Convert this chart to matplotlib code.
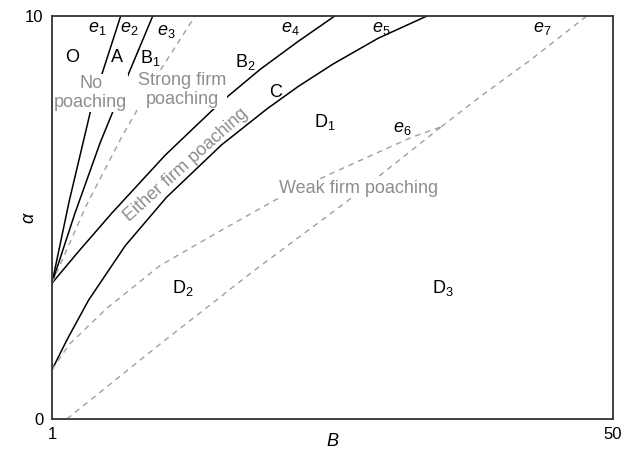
import numpy as np
import matplotlib
matplotlib.use("Agg")
import matplotlib.pyplot as plt

plt.rcParams['font.family'] = ['Liberation Sans', 'DejaVu Sans']
plt.rcParams['mathtext.fontset'] = 'custom'
plt.rcParams['mathtext.rm'] = 'Liberation Sans'
plt.rcParams['mathtext.it'] = 'Liberation Sans:italic'

# boundary curves (B, alpha)
e1_B = [1, 2.5, 4.5, 7.0]
e1_a = [3.37, 5.4, 7.8, 10]
e2_B = [1, 3.0, 5.2, 7.0, 9.8]
e2_a = [3.37, 5.1, 6.85, 8.1, 10]
e3_B = [1, 4.0, 7.0, 10.0, 13.5]
e3_a = [3.37, 5.3, 6.95, 8.45, 10]
e4_B = [1, 3.3, 6.2, 10.9, 15.7, 19.2, 22.5, 25.7]
e4_a = [3.37, 4.15, 5.1, 6.55, 7.85, 8.68, 9.37, 10]
e5_B = [1, 2.3, 4.2, 7.4, 11.0, 15.8, 19.8, 22.5, 25.5, 29.5, 33.75]
e5_a = [1.22, 1.96, 2.95, 4.3, 5.5, 6.8, 7.7, 8.25, 8.8, 9.45, 10]
e6_B = [1, 2.5, 5.8, 10.4, 15.4, 20.6, 25.3, 29.9, 32.5, 35.0]
e6_a = [1.22, 1.85, 2.75, 3.8, 4.62, 5.45, 6.08, 6.67, 7.0, 7.25]
weak_B = [2.3, 10.4, 18.5, 27.0, 35.0]
weak_a = [0, 1.85, 3.65, 5.45, 7.25]
e7_B = [35.0, 38.4, 42.75, 47.7]
e7_a = [7.25, 8.0, 8.9, 10]

# region / curve labels
curve_labels = [r"$e_1$", r"$e_2$", r"$e_3$", r"$e_4$", r"$e_5$", r"$e_6$", r"$e_7$"]
curve_lab_B = [4.93, 7.75, 11.0, 21.8, 29.8, 31.6, 43.8]
curve_lab_a = [9.68, 9.68, 9.62, 9.7, 9.7, 7.22, 9.7]
region_labels = ["O", "A", r"B$_1$", r"B$_2$", "C", r"D$_1$", r"D$_2$", r"D$_3$"]
region_lab_B = [2.75, 6.68, 9.56, 17.9, 20.56, 24.8, 12.4, 35.15]
region_lab_a = [8.98, 8.98, 8.96, 8.86, 8.11, 7.37, 3.25, 3.25]

grey = '#8e8e8e'
white_box = dict(facecolor='white', edgecolor='none', pad=0.5)
fig = plt.figure(figsize=(6.27, 4.51), dpi=100)
ax = fig.add_axes([0.0829, 0.0710, 0.8948, 0.8935])

for bb, aa in [(e1_B, e1_a), (e2_B, e2_a), (e4_B, e4_a), (e5_B, e5_a)]:
    ax.plot(bb, aa, color='black', lw=1.1)
for bb, aa in [(e3_B, e3_a), (e6_B, e6_a), (weak_B, weak_a), (e7_B, e7_a)]:
    ax.plot(bb, aa, color='#a0a0a0', lw=1.0, dashes=(4, 3.5))

for s, x, y in zip(curve_labels, curve_lab_B, curve_lab_a):
    ax.text(x, y, s, fontsize=13, ha='center', va='center')
for s, x, y in zip(region_labels, region_lab_B, region_lab_a):
    ax.text(x, y, s, fontsize=13, ha='center', va='center')

ax.text(4.4, 8.09, "No\npoaching", fontsize=13, color=grey, ha='center', va='center', bbox=white_box)
ax.text(12.35, 8.16, "Strong firm\npoaching", fontsize=13, color=grey, ha='center', va='center', bbox=white_box)
ax.text(12.7, 6.3, "Either firm poaching", fontsize=13, color=grey, ha='center', va='center', rotation=42)
ax.text(27.8, 5.73, "Weak firm poaching", fontsize=13, color=grey, ha='center', va='center', bbox=white_box)

ax.set_xlim(1, 50)
ax.set_ylim(0, 10)
ax.set_xticks([1, 50])
ax.set_yticks([0, 10])
ax.tick_params(length=0, labelsize=12, pad=6)
for sp in ax.spines.values():
    sp.set_color('#333333')
    sp.set_linewidth(1.3)
ax.set_xlabel(r"$B$", fontsize=13)
ax.xaxis.set_label_coords(0.5, -0.034)
ax.set_ylabel(r"$\alpha$", fontsize=13)
ax.yaxis.set_label_coords(-0.025, 0.5)

fig.savefig("out.png", dpi=100)
